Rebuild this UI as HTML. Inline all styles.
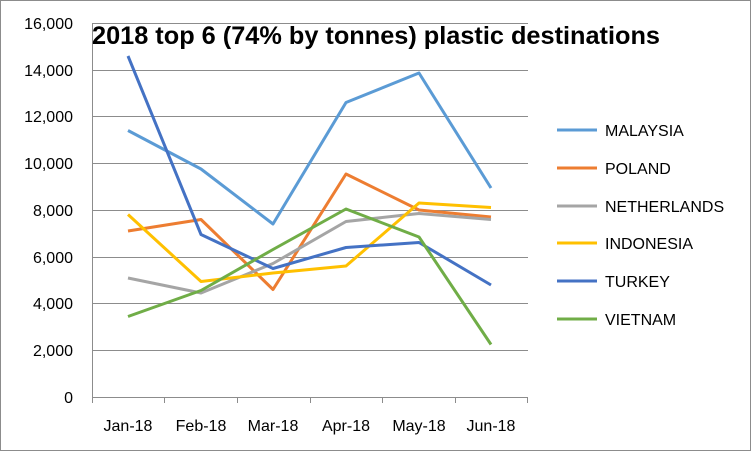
<!DOCTYPE html>
<html><head><meta charset="utf-8"><style>body{margin:0;background:#fff}svg{display:block}</style></head><body>
<svg width="751" height="451" xmlns="http://www.w3.org/2000/svg" font-family="Liberation Sans, sans-serif">
<rect x="0.5" y="0.5" width="750" height="450" fill="#fff" stroke="#8c8c8c"/>
<g stroke="#8c8c8c" stroke-width="1">
<line x1="92" y1="23.5" x2="528" y2="23.5"/><line x1="92" y1="70.5" x2="528" y2="70.5"/><line x1="92" y1="116.5" x2="528" y2="116.5"/><line x1="92" y1="163.5" x2="528" y2="163.5"/><line x1="92" y1="210.5" x2="528" y2="210.5"/><line x1="92" y1="257.5" x2="528" y2="257.5"/><line x1="92" y1="303.5" x2="528" y2="303.5"/><line x1="92" y1="350.5" x2="528" y2="350.5"/><line x1="92" y1="397.5" x2="528" y2="397.5"/>
<line x1="92.5" y1="23" x2="92.5" y2="397"/>
<line x1="164.5" y1="397" x2="164.5" y2="403"/><line x1="237.5" y1="397" x2="237.5" y2="403"/><line x1="310.5" y1="397" x2="310.5" y2="403"/><line x1="382.5" y1="397" x2="382.5" y2="403"/><line x1="455.5" y1="397" x2="455.5" y2="403"/><line x1="527.5" y1="397" x2="527.5" y2="403"/><line x1="92.5" y1="397" x2="92.5" y2="403"/>
</g>
<g font-size="16" fill="#000" text-anchor="end">
<text x="73" y="29">16,000</text><text x="73" y="76">14,000</text><text x="73" y="122">12,000</text><text x="73" y="169">10,000</text><text x="73" y="216">8,000</text><text x="73" y="263">6,000</text><text x="73" y="309">4,000</text><text x="73" y="356">2,000</text><text x="73" y="403">0</text>
</g>
<g font-size="16" fill="#000" text-anchor="middle">
<text x="128" y="431">Jan-18</text><text x="201" y="431">Feb-18</text><text x="273" y="431">Mar-18</text><text x="346" y="431">Apr-18</text><text x="419" y="431">May-18</text><text x="491" y="431">Jun-18</text>
</g>
<g fill="none" stroke-width="3" stroke-linejoin="round">
<polyline stroke="#5B9BD5" points="128,130.5 201,169 273,224 346,102.5 419,73 491,188"/>
<polyline stroke="#ED7D31" points="128,231 201,219.5 273,289.5 346,174 419,210 491,217"/>
<polyline stroke="#A5A5A5" points="128,278 201,293 273,263.5 346,221.5 419,213.5 491,219.5"/>
<polyline stroke="#FFC000" points="128,214.5 201,281.5 273,273 346,266 419,203 491,207.5"/>
<polyline stroke="#4472C4" points="128,56 201,234.5 273,268.5 346,247.5 419,242.5 491,285"/>
<polyline stroke="#70AD47" points="128,316.5 201,290.5 273,249.5 346,209 419,237 491,344.5"/>
</g>
<text x="92" y="44" font-size="25" font-weight="bold" fill="#000" textLength="568" lengthAdjust="spacingAndGlyphs">2018 top 6 (74% by tonnes) plastic destinations</text>
<g stroke-width="3">
<line x1="557" y1="130" x2="597" y2="130" stroke="#5B9BD5"/>
<line x1="557" y1="168" x2="597" y2="168" stroke="#ED7D31"/>
<line x1="557" y1="206" x2="597" y2="206" stroke="#A5A5A5"/>
<line x1="557" y1="243" x2="597" y2="243" stroke="#FFC000"/>
<line x1="557" y1="281" x2="597" y2="281" stroke="#4472C4"/>
<line x1="557" y1="319" x2="597" y2="319" stroke="#70AD47"/>
</g>
<g font-size="16" fill="#000">
<text x="605" y="136">MALAYSIA</text><text x="605" y="174">POLAND</text><text x="605" y="212">NETHERLANDS</text><text x="605" y="249">INDONESIA</text><text x="605" y="287">TURKEY</text><text x="605" y="325">VIETNAM</text>
</g>
</svg>
</body></html>
